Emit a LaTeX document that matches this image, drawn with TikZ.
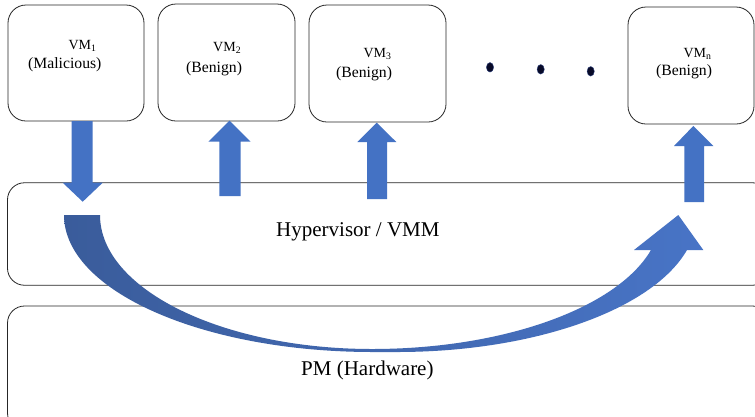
\documentclass[tikz,border=0pt]{standalone}
\usepackage{fontspec}
\setmainfont{Liberation Serif}
\begin{document}
\begin{tikzpicture}[x=1pt, y=-1pt,
  boxline/.style={draw=black!85, line width=0.8pt},
  vmbox/.style={boxline, rounded corners=18pt, inner sep=0pt},
  layerbox/.style={boxline, rounded corners=17pt, inner sep=0pt},
  vmname/.style={anchor=base west, inner sep=0pt, font=\fontsize{14}{16}\selectfont},
  vmrole/.style={anchor=base west, inner sep=0pt, font=\fontsize{15.7}{18}\selectfont},
  layername/.style={anchor=base west, inner sep=0pt, font=\fontsize{21}{24}\selectfont},
  blockarrow/.style={fill=arrowblue},
  dotmark/.style={fill=dotnavy, draw=dotedge, line width=0.4pt}]
\definecolor{arrowblue}{RGB}{68,114,196}
\definecolor{curvedark}{RGB}{58,92,155}
\definecolor{curvelight}{RGB}{72,116,198}
\definecolor{dotnavy}{RGB}{8,10,40}
\definecolor{dotedge}{RGB}{40,60,120}

% canvas
\path[use as bounding box] (0,0) rectangle (755,416);
\clip (0,0) rectangle (755,416);
\fill[white] (0,0) rectangle (755,416);

% virtual machine boxes
\node[vmbox, minimum width=136pt, minimum height=116pt] (vm1) at (76,63) {};
\node[vmbox, minimum width=137pt, minimum height=117pt] (vm2) at (226.5,62.5) {};
\node[vmbox, minimum width=137pt, minimum height=117pt] (vm3) at (377.5,63.5) {};
\node[vmbox, minimum width=126pt, minimum height=117pt] (vmn) at (691,65.5) {};

% hypervisor and hardware layers (running past the right edge)
\node[layerbox, minimum width=762pt, minimum height=102.5pt] (hyp) at (388.5,234) {};
\node[layerbox, minimum width=762pt, minimum height=124pt] (pm) at (388.5,368) {};

% labels
\node[vmname] (vm1a) at (68.3,49.5) {VM\textsubscript{1}};
\node[vmrole] (vm1b) at (28,68.5) {(Malicious)};
\node[vmname] (vm2a) at (213,51.5) {VM\textsubscript{2}};
\node[vmrole] (vm2b) at (186,72.5) {(Benign)};
\node[vmname] (vm3a) at (363.3,57) {VM\textsubscript{3}};
\node[vmrole] (vm3b) at (336,77) {(Benign)};
\node[vmname] (vmna) at (683.3,57.5) {VM\textsubscript{n}};
\node[vmrole] (vmnb) at (656,75.5) {(Benign)};
\node[layername] (hypt) at (276,236.7) {Hypervisor / VMM};
\node[layername] (pmt) at (301,375.7) {PM (Hardware)};

% ellipsis between the VM boxes
\path[dotmark] (490,67.3) ellipse [x radius=3.6pt, y radius=4.8pt];
\path[dotmark] (540.7,69.3) ellipse [x radius=3.6pt, y radius=4.8pt];
\path[dotmark] (590.7,71.3) ellipse [x radius=3.6pt, y radius=4.8pt];

% block arrows between the VMs and the hypervisor
\path[blockarrow] (71.7,121) -- (92.7,121) -- (92.7,182.7) -- (102.7,182.7)
  -- (82.7,201.7) -- (62.7,182.7) -- (71.7,182.7) -- cycle;
\path[blockarrow] (219.3,196) -- (240.7,196) -- (240.7,141.7) -- (250.7,141.7)
  -- (229.5,120.7) -- (208.3,141.7) -- (219.3,141.7) -- cycle;
\path[blockarrow] (367,199) -- (387,199) -- (387,142) -- (396.3,142)
  -- (376.7,122.7) -- (357.3,142) -- (367,142) -- cycle;
\path[blockarrow] (684.3,202) -- (704,202) -- (704,146) -- (713.3,146)
  -- (693.3,126) -- (674,146) -- (684.3,146) -- cycle;

% curved arrow from the malicious VM's side to VM n's side
\shade[left color=curvedark, right color=curvelight]
  (64,215) .. controls (64,290.7) and (202.3,352) .. (373,352)
  -- (397,352) .. controls (533.2,352) and (652.3,310.1) .. (687,250)
  -- (703.3,250) -- (678.3,215) -- (634,250) -- (651,250)
  .. controls (616.8,308.4) and (502.6,349) .. (372,349)
  .. controls (221.8,349) and (100,289) .. (100,215) -- cycle;
\end{tikzpicture}
\end{document}
